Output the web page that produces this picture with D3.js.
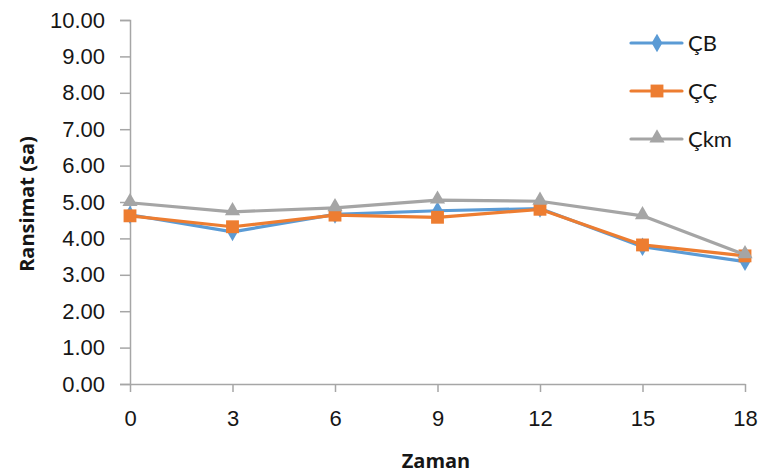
<!DOCTYPE html>
<html>
<head>
<meta charset="utf-8">
<script src="https://cdn.jsdelivr.net/npm/d3@7"></script>
<style>
  html, body { margin: 0; padding: 0; background: #fff; }
  svg { display: block; font-family: Lato, "Open Sans", sans-serif; }
  .title { font-family: "Open Sans", Lato, sans-serif; font-weight: bold; }
</style>
</head>
<body>
<svg id="chart" width="762" height="475"></svg>
<script>
// Time points (x) and tick labels
const zaman = [0, 3, 6, 9, 12, 15, 18];
const yTicks = [0, 1, 2, 3, 4, 5, 6, 7, 8, 9, 10];

// Series values
const cbValues  = [4.65, 4.18, 4.66, 4.76, 4.82, 3.77, 3.36];
const ccValues  = [4.62, 4.32, 4.64, 4.58, 4.80, 3.82, 3.52];
const ckmValues = [4.98, 4.73, 4.84, 5.05, 5.02, 4.62, 3.55];

const seriesNames = ["ÇB", "ÇÇ", "Çkm"];

const series = [
  { name: seriesNames[0], values: cbValues,  color: "#5B9BD5", shape: "diamond" },
  { name: seriesNames[1], values: ccValues,  color: "#ED7D31", shape: "square" },
  { name: seriesNames[2], values: ckmValues, color: "#A5A5A5", shape: "triangle" }
];

const svg = d3.select("#chart");
const margin = { left: 130, right: 17, top: 20, bottom: 91 };
const W = 762, H = 475;

const x = d3.scaleLinear().domain([0, 18]).range([margin.left, W - margin.right]);
const y = d3.scaleLinear().domain([0, 10]).range([H - margin.bottom, margin.top]);

const axisColor = "#A6A6A6";
const textColor = "#161616";

// Y axis
const yAxis = svg.append("g")
  .attr("transform", `translate(${margin.left},0)`)
  .call(d3.axisLeft(y).tickValues(yTicks).tickFormat(d3.format(".2f")).tickSize(10).tickPadding(15));
yAxis.select(".domain").attr("stroke", axisColor).attr("stroke-width", 1.5);
yAxis.selectAll(".tick line").attr("stroke", axisColor).attr("stroke-width", 1.5);
yAxis.selectAll(".tick text").attr("fill", textColor).style("font-size", "22px");

// X axis
const xAxis = svg.append("g")
  .attr("transform", `translate(0,${y(0)})`)
  .call(d3.axisBottom(x).tickValues(zaman).tickSizeInner(8).tickSizeOuter(0).tickPadding(18));
xAxis.select(".domain").attr("stroke", axisColor).attr("stroke-width", 1.5);
xAxis.selectAll(".tick line").attr("stroke", axisColor).attr("stroke-width", 1.5);
xAxis.selectAll(".tick text").attr("fill", textColor).style("font-size", "22px");

// Axis titles
svg.append("text")
  .attr("class", "title")
  .attr("x", 436).attr("y", 468)
  .attr("text-anchor", "middle")
  .style("font-size", "20px").attr("fill", textColor)
  .text("Zaman");

svg.append("text")
  .attr("class", "title")
  .attr("transform", `translate(34,${y(5) + 2}) rotate(-90)`)
  .attr("text-anchor", "middle")
  .style("font-size", "20px").attr("fill", textColor)
  .text("Ransimat (sa)");

const symbolFor = {
  diamond:  d3.symbol().type(d3.symbolDiamond).size(100),
  square:   d3.symbol().type(d3.symbolSquare).size(165),
  triangle: d3.symbol().type(d3.symbolTriangle).size(100)
};

const line = d3.line().x((d, i) => x(zaman[i])).y(d => y(d));

series.forEach(s => {
  const g = svg.append("g");
  g.append("path")
    .attr("d", line(s.values))
    .attr("fill", "none")
    .attr("stroke", s.color)
    .attr("stroke-width", 3.2)
    .attr("stroke-linejoin", "round");
  g.selectAll("path.marker")
    .data(s.values)
    .join("path")
    .attr("class", "marker")
    .attr("d", symbolFor[s.shape])
    .attr("transform", (d, i) => `translate(${x(zaman[i])},${y(d) + (s.shape === "triangle" ? -1 : 0)})`)
    .attr("fill", s.color);
});

// Legend
const legend = svg.append("g").attr("transform", "translate(631,43)");
series.forEach((s, i) => {
  const row = legend.append("g").attr("transform", `translate(0,${i * 48})`);
  row.append("line")
    .attr("x1", 0).attr("x2", 51).attr("y1", 0).attr("y2", 0)
    .attr("stroke", s.color).attr("stroke-width", 3.2).attr("stroke-linecap", "round");
  row.append("path")
    .attr("d", symbolFor[s.shape])
    .attr("transform", `translate(26,${s.shape === "triangle" ? -1 : 0})`)
    .attr("fill", s.color);
  row.append("text")
    .attr("x", 57).attr("y", 8)
    .style("font-size", "22px").attr("fill", textColor)
    .text(s.name);
});
</script>
</body>
</html>
